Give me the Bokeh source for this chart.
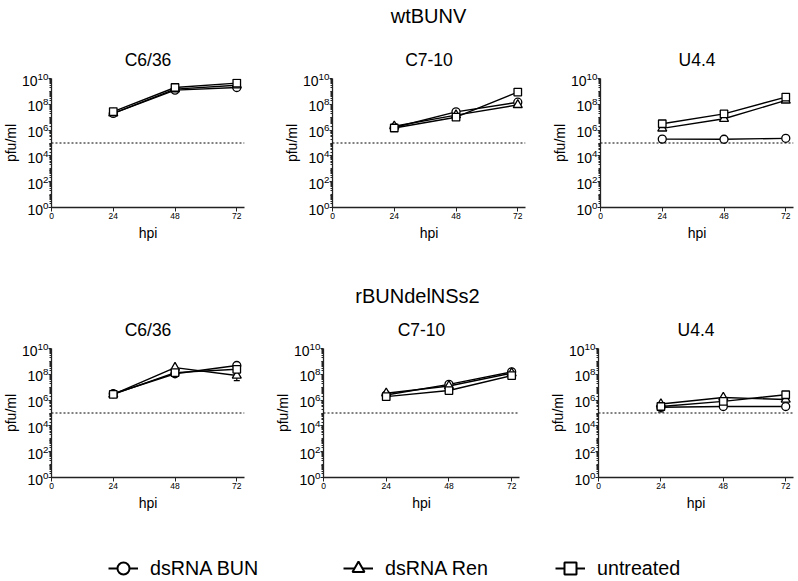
from bokeh.plotting import figure
from bokeh.layouts import column, row
from bokeh.models import (Range1d, FixedTicker, Span, Label, Legend, LegendItem,
                          Whisker, ColumnDataSource, TeeHead)
from bokeh.embed import file_html
from bokeh.resources import INLINE

FONT = "Liberation Sans"

# ---------------- data ----------------
hpi = [24, 48, 72]
x_ticks = [0, 24, 48, 72]
y_major = [1e0, 1e2, 1e4, 1e6, 1e8, 1e10]
y_minor = [k * 10.0 ** n for n in range(0, 10) for k in range(1, 10)]
detection_limit = 1e5

series_names = ["dsRNA BUN", "dsRNA Ren", "untreated"]
series_markers = ["circle", "triangle", "square"]
series_sizes = [8, 9, 7.5]

cell_lines = ["C6/36", "C7-10", "U4.4"]
virus_names = ["wtBUNV", "rBUNdelNSs2"]

# wtBUNV (pfu/ml at 24, 48, 72 hpi)
wt_C636_bun = [1.95e7, 1.26e9, 2.0e9]
wt_C636_ren = [2.0e7, 1.5e9, 3.0e9]
wt_C636_untr = [2.75e7, 2.0e9, 4.4e9]

wt_C710_bun = [1.6e6, 2.6e7, 1.45e8]
wt_C710_ren = [2.0e6, 1.45e7, 9.0e7]
wt_C710_untr = [1.45e6, 1.0e7, 8.9e8]

wt_U44_bun = [2.0e5, 1.95e5, 2.3e5]
wt_U44_ren = [1.35e6, 7.6e6, 2.0e8]
wt_U44_untr = [3.1e6, 1.8e7, 3.6e8]

# rBUNdelNSs2
del_C636_bun = [3.1e6, 1.1e8, 4.8e8]
del_C636_ren = [2.75e6, 3.3e8, 8.0e7]
del_C636_untr = [2.75e6, 1.35e8, 2.45e8]

del_C710_bun = [2.5e6, 1.65e7, 1.55e8]
del_C710_ren = [3.4e6, 1.25e7, 1.23e8]
del_C710_untr = [1.85e6, 5.5e6, 8.0e7]

del_U44_bun = [2.8e5, 3.2e5, 3.2e5]
del_U44_ren = [5.0e5, 1.6e6, 1.1e6]
del_U44_untr = [3.2e5, 8.0e5, 2.6e6]

# visible error bars: hour, lower, upper
del_C636_ren_err_hpi = [72]
del_C636_ren_err_lo = [3.2e7]
del_C636_ren_err_hi = [2.0e8]
del_U44_ren_err_hpi = [24]
del_U44_ren_err_lo = [1.2e5]
del_U44_ren_err_hi = [5.0e5]

rows_data = [
    [[wt_C636_bun, wt_C636_ren, wt_C636_untr],
     [wt_C710_bun, wt_C710_ren, wt_C710_untr],
     [wt_U44_bun, wt_U44_ren, wt_U44_untr]],
    [[del_C636_bun, del_C636_ren, del_C636_untr],
     [del_C710_bun, del_C710_ren, del_C710_untr],
     [del_U44_bun, del_U44_ren, del_U44_untr]],
]
rows_errors = [
    [[], [], []],
    [[(del_C636_ren_err_hpi, del_C636_ren_err_lo, del_C636_ren_err_hi)], [],
     [(del_U44_ren_err_hpi, del_U44_ren_err_lo, del_U44_ren_err_hi)]],
]

# ---------------- layout geometry ----------------
TOTAL_W = 798
row_specs = [
    dict(widths=[279, 268, 251], lefts=[50, 53, 53], rights=[35, 22, 5], top=40, bottom=76, height=245),
    dict(widths=[270, 275, 253], lefts=[49, 53, 53], rights=[26, 26, 5], top=40, bottom=43, height=212),
]
# (strip height, label y from bottom, label x centre)
strip_specs = [(38, 23, 428), (25, 13, 417)]


def make_panel(title, series_list, errors, width, left, right, top, bottom, height):
    p = figure(width=width, height=height, x_range=Range1d(0, 75), y_range=Range1d(1, 1e10),
               y_axis_type="log", output_backend="svg", toolbar_location=None, title=title,
               min_border_left=left, min_border_right=right, min_border_top=top,
               min_border_bottom=bottom)
    p.outline_line_color = None
    p.grid.visible = False
    p.title.text_font = FONT
    p.title.text_font_size = "17.5px"
    p.title.text_font_style = "normal"
    p.title.text_color = "black"
    p.title.align = "center"
    p.title.standoff = 17

    xa = p.xaxis[0]
    xa.ticker = FixedTicker(ticks=x_ticks)
    xa.axis_label = "hpi"
    ya = p.yaxis[0]
    ya.ticker = FixedTicker(ticks=y_major, minor_ticks=y_minor)
    ya.axis_label = "pfu/ml"
    for ax in (xa, ya):
        ax.axis_line_width = 1.3
        ax.axis_line_color = "#222222"
        ax.major_tick_line_color = "#222222"
        ax.minor_tick_line_color = "#222222"
        ax.major_tick_in = 0
        ax.minor_tick_in = 0
        ax.axis_label_text_font = FONT
        ax.axis_label_text_font_style = "normal"
        ax.axis_label_text_font_size = "14px"
        ax.axis_label_text_color = "black"
        ax.major_label_text_font = FONT
        ax.major_label_text_color = "black"
    xa.major_tick_out = 4
    xa.minor_tick_line_color = None
    xa.major_label_text_font_size = "8.5px"
    xa.major_label_standoff = 1
    xa.axis_label_standoff = 3
    ya.major_tick_out = 3
    ya.minor_tick_out = 2
    ya.major_label_text_font_size = "14px"
    ya.major_label_standoff = 0
    ya.axis_label_standoff = 0

    p.add_layout(Span(location=detection_limit, dimension="width", line_color="black",
                      line_width=1, line_dash="2 2"))

    for (eh, elo, ehi) in errors:
        src = ColumnDataSource(dict(x=eh, lo=elo, hi=ehi))
        p.add_layout(Whisker(source=src, base="x", lower="lo", upper="hi", dimension="height",
                             line_color="black", line_width=1.2,
                             lower_head=TeeHead(size=6, line_color="black", line_width=1.2),
                             upper_head=TeeHead(size=6, line_color="black", line_width=1.2)))

    for vals in series_list:
        p.line(hpi, vals, line_color="black", line_width=1.4)
    for vals, mk, sz in zip(series_list, series_markers, series_sizes):
        p.scatter(hpi, vals, marker=mk, size=sz, fill_color="white", line_color="black",
                  line_width=1.3)
    return p


def text_strip(text, height, y_from_bottom, x_center):
    p = figure(width=TOTAL_W, height=height, x_range=Range1d(0, 1), y_range=Range1d(0, 1),
               output_backend="svg", toolbar_location=None, min_border=0)
    p.axis.visible = False
    p.grid.visible = False
    p.outline_line_color = None
    p.add_layout(Label(x=x_center, y=y_from_bottom, x_units="screen", y_units="screen",
                       text=text, text_align="center", text_baseline="middle",
                       text_font=FONT, text_font_size="20px", text_color="black"))
    return p


children = []
for r in range(2):
    h, yb, xc = strip_specs[r]
    children.append(text_strip(virus_names[r], h, yb, xc))
    spec = row_specs[r]
    panels = []
    for c in range(3):
        panels.append(make_panel(cell_lines[c], rows_data[r][c], rows_errors[r][c],
                                 spec["widths"][c], spec["lefts"][c], spec["rights"][c],
                                 spec["top"], spec["bottom"], spec["height"]))
    children.append(row(*panels, spacing=0))

# legend strip: one legend per entry, placed like the reference
leg = figure(width=TOTAL_W, height=60, x_range=Range1d(0, 1), y_range=Range1d(0, 1),
             output_backend="svg", toolbar_location=None, min_border=0)
leg.axis.visible = False
leg.grid.visible = False
leg.outline_line_color = None
legend_x = [108, 343, 555]
for name, mk, lx in zip(series_names, series_markers, legend_x):
    src = ColumnDataSource(dict(x=[-5.0], y=[-5.0]))
    lr = leg.line("x", "y", source=src, line_color="black", line_width=2)
    sr = leg.scatter("x", "y", source=src, marker=mk, fill_color="white", line_color="black",
                     line_width=2)
    lg = Legend(items=[LegendItem(label=name, renderers=[lr, sr])], orientation="horizontal",
                location=(lx, -3), glyph_width=30, glyph_height=30, label_standoff=12,
                padding=0, margin=0, border_line_color=None, background_fill_alpha=0,
                label_text_font=FONT, label_text_font_size="19.7px", label_text_color="black")
    leg.add_layout(lg)
children.append(leg)

layout = column(*children, spacing=0)
open("out.html", "w").write(file_html(layout, INLINE))
